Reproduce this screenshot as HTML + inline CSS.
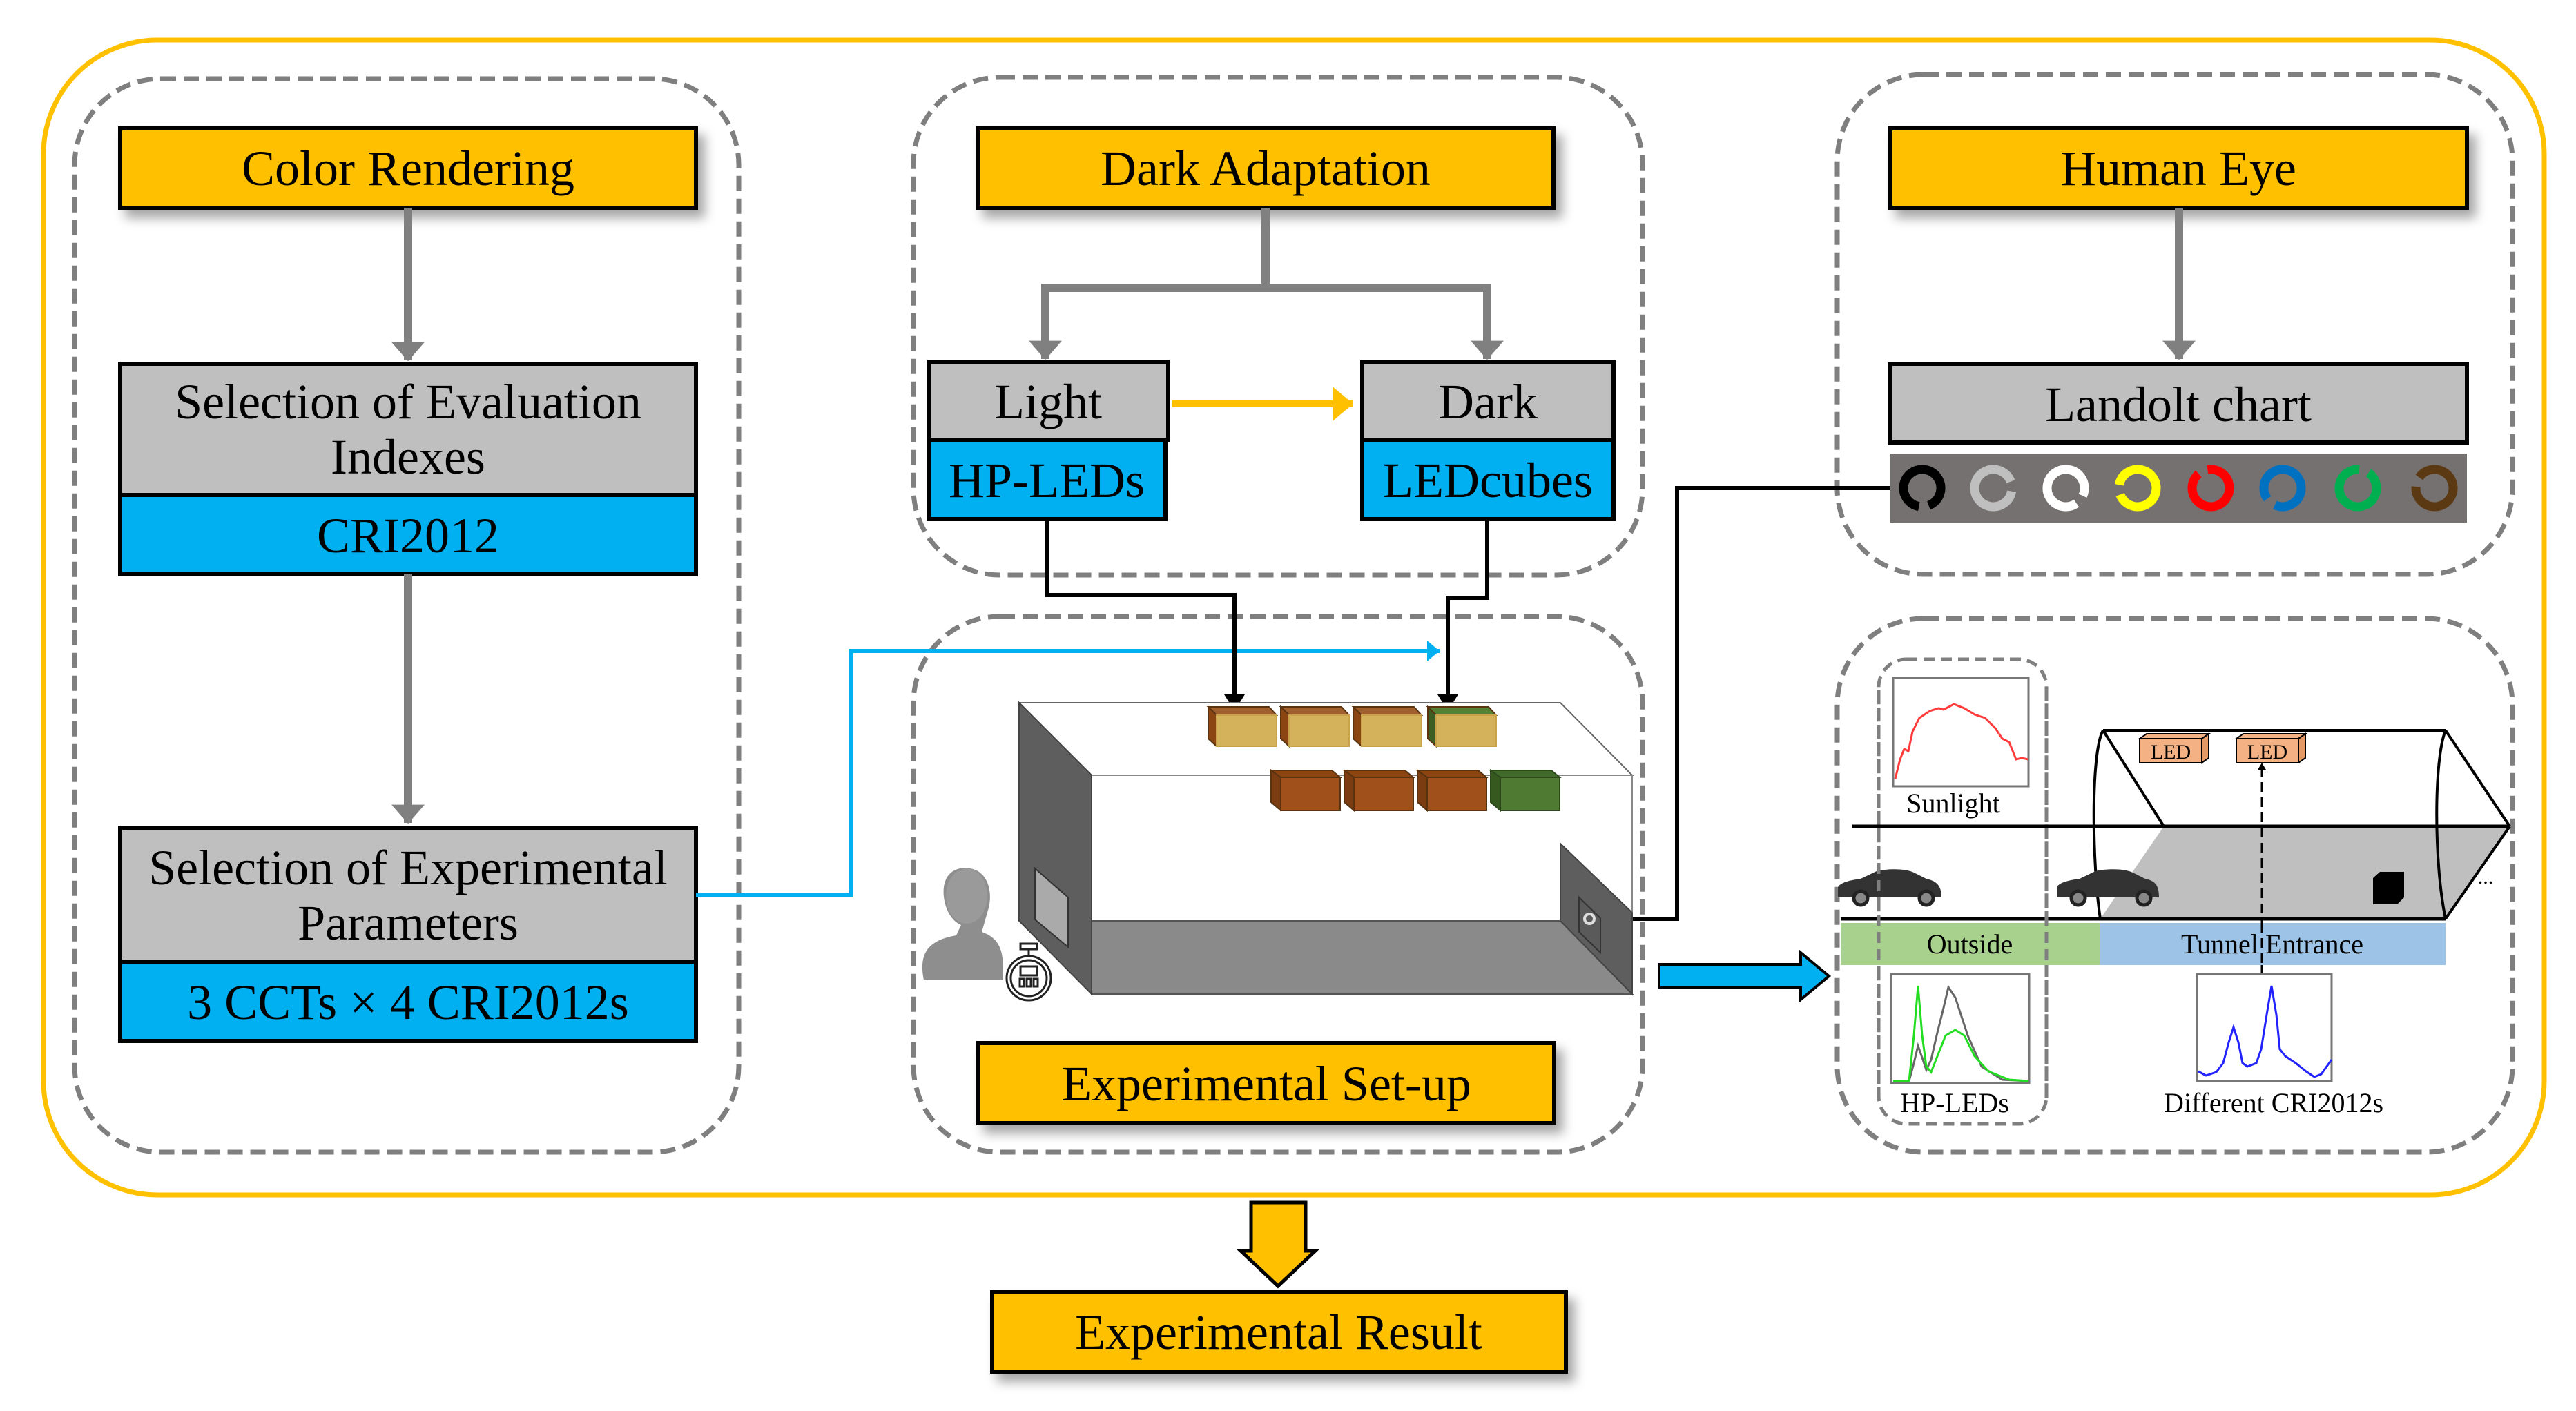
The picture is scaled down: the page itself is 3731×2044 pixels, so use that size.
<!DOCTYPE html>
<html><head><meta charset="utf-8"><style>
html,body{margin:0;padding:0;background:#fff}
svg{display:block}
text{font-family:"Liberation Serif",serif;fill:#000}
</style></head><body>
<svg width="3731" height="2044" viewBox="0 0 3731 2044" xmlns="http://www.w3.org/2000/svg">
<defs>
<filter id="sh" x="-5%" y="-20%" width="115%" height="160%"><feDropShadow dx="10" dy="12" stdDeviation="8" flood-color="#000" flood-opacity="0.35"/></filter>
<marker id="ag" markerWidth="4" markerHeight="4" refX="2.2" refY="2" orient="auto" markerUnits="strokeWidth"><path d="M0,0 L2.3,2 L0,4 z" fill="#808080"/></marker>
<marker id="ab" markerWidth="6" markerHeight="6" refX="4" refY="3" orient="auto" markerUnits="strokeWidth"><path d="M0,0.5 L4,3 L0,5.5 z" fill="#000"/></marker>
<marker id="ac" markerWidth="5" markerHeight="5" refX="3" refY="2.5" orient="auto" markerUnits="strokeWidth"><path d="M0,0 L3,2.5 L0,5 z" fill="#00B0F0"/></marker>
<marker id="ay" markerWidth="5" markerHeight="5" refX="3" refY="2.5" orient="auto" markerUnits="strokeWidth"><path d="M0,0 L3,2.5 L0,5 z" fill="#FFC000"/></marker>
</defs>

<rect x="63" y="58" width="3622" height="1673" rx="165" fill="none" stroke="#FFC000" stroke-width="7"/>

<g fill="none" stroke="#7f7f7f" stroke-width="7" stroke-dasharray="22 11">
<rect x="108" y="114" width="962" height="1555" rx="125"/>
<rect x="1323" y="112" width="1056" height="721" rx="125"/>
<rect x="2661" y="108" width="978" height="724" rx="125"/>
<rect x="1323" y="893" width="1056" height="776" rx="125"/>
<rect x="2661" y="896" width="978" height="773" rx="125"/>
<rect x="2721" y="955" width="243" height="673" rx="40" stroke-width="5" stroke-dasharray="16 9"/>
</g>

<rect x="174" y="186" width="834" height="115" fill="#FFC000" stroke="#000" stroke-width="6" filter="url(#sh)"/>
<text x="591" y="268" font-size="72" text-anchor="middle">Color Rendering</text>
<line x1="591" y1="301" x2="591" y2="522" stroke="#808080" stroke-width="12" marker-end="url(#ag)"/>
<rect x="174" y="527" width="834" height="190" fill="#BFBFBF" stroke="#000" stroke-width="6"/>
<text x="591" y="606" font-size="72" text-anchor="middle">Selection of Evaluation</text>
<text x="591" y="686" font-size="72" text-anchor="middle">Indexes</text>
<rect x="174" y="717" width="834" height="115" fill="#00B0F0" stroke="#000" stroke-width="6"/>
<text x="591" y="800" font-size="72" text-anchor="middle">CRI2012</text>
<line x1="591" y1="832" x2="591" y2="1192" stroke="#808080" stroke-width="12" marker-end="url(#ag)"/>
<rect x="174" y="1199" width="834" height="194" fill="#BFBFBF" stroke="#000" stroke-width="6"/>
<text x="591" y="1281" font-size="72" text-anchor="middle">Selection of Experimental</text>
<text x="591" y="1361" font-size="72" text-anchor="middle">Parameters</text>
<rect x="174" y="1393" width="834" height="115" fill="#00B0F0" stroke="#000" stroke-width="6"/>
<text x="591" y="1476" font-size="72" text-anchor="middle">3 CCTs × 4 CRI2012s</text>

<polyline points="1008,1297 1233,1297 1233,943 2085,943" fill="none" stroke="#00B0F0" stroke-width="6" marker-end="url(#ac)"/>

<rect x="1416" y="186" width="834" height="115" fill="#FFC000" stroke="#000" stroke-width="6" filter="url(#sh)"/>
<text x="1833" y="268" font-size="72" text-anchor="middle">Dark Adaptation</text>
<polyline points="1833,301 1833,417 1514,417 1514,520" fill="none" stroke="#808080" stroke-width="12" marker-end="url(#ag)"/>
<polyline points="1833,417 2154,417 2154,520" fill="none" stroke="#808080" stroke-width="12" marker-end="url(#ag)"/>
<rect x="1345" y="525" width="347" height="112" fill="#BFBFBF" stroke="#000" stroke-width="6"/>
<text x="1518" y="606" font-size="72" text-anchor="middle">Light</text>
<rect x="1345" y="637" width="343" height="115" fill="#00B0F0" stroke="#000" stroke-width="6"/>
<text x="1516" y="720" font-size="72" text-anchor="middle">HP-LEDs</text>
<rect x="1973" y="525" width="364" height="112" fill="#BFBFBF" stroke="#000" stroke-width="6"/>
<text x="2155" y="606" font-size="72" text-anchor="middle">Dark</text>
<rect x="1973" y="637" width="364" height="115" fill="#00B0F0" stroke="#000" stroke-width="6"/>
<text x="2155" y="720" font-size="72" text-anchor="middle">LEDcubes</text>
<line x1="1698" y1="585" x2="1960" y2="585" stroke="#FFC000" stroke-width="10" marker-end="url(#ay)"/>

<polyline points="1517,752 1517,862 1788,862 1788,1030" fill="none" stroke="#000" stroke-width="6" marker-end="url(#ab)"/>
<polyline points="2154,752 2154,866 2097,866 2097,1030" fill="none" stroke="#000" stroke-width="6" marker-end="url(#ab)"/>
<polyline points="2737,707 2429,707 2429,1331 2330,1331" fill="none" stroke="#000" stroke-width="6" marker-end="url(#ab)"/>

<rect x="2738" y="186" width="835" height="115" fill="#FFC000" stroke="#000" stroke-width="6" filter="url(#sh)"/>
<text x="3155" y="268" font-size="72" text-anchor="middle">Human Eye</text>
<line x1="3156" y1="301" x2="3156" y2="520" stroke="#808080" stroke-width="12" marker-end="url(#ag)"/>
<rect x="2738" y="527" width="835" height="114" fill="#BFBFBF" stroke="#000" stroke-width="6"/>
<text x="3155" y="610" font-size="72" text-anchor="middle">Landolt chart</text>
<rect x="2738" y="657" width="835" height="100" fill="#767171"/>
<g fill="none" stroke-width="13">
<circle cx="2784" cy="707" r="27" stroke="#000" stroke-dasharray="155 15" transform="rotate(100 2784 707)"/>
<circle cx="2887" cy="707" r="27" stroke="#BFBFBF" stroke-dasharray="155 15" transform="rotate(10 2887 707)"/>
<circle cx="2992" cy="707" r="27" stroke="#fff" stroke-dasharray="155 15" transform="rotate(55 2992 707)"/>
<circle cx="3096" cy="707" r="27" stroke="#FFFF00" stroke-dasharray="155 15" transform="rotate(-170 3096 707)"/>
<circle cx="3202" cy="707" r="27" stroke="#FF0000" stroke-dasharray="155 15" transform="rotate(-100 3202 707)"/>
<circle cx="3306" cy="707" r="27" stroke="#0070C0" stroke-dasharray="155 15" transform="rotate(145 3306 707)"/>
<circle cx="3415" cy="707" r="27" stroke="#00B050" stroke-dasharray="155 15" transform="rotate(-55 3415 707)"/>
<circle cx="3526" cy="707" r="27" stroke="#5B3A13" stroke-dasharray="155 15" transform="rotate(-145 3526 707)"/>
</g>

<polygon points="1476,1018 2260,1018 2364,1123 1581,1123" fill="#fff" stroke="#666" stroke-width="2"/>
<rect x="1581" y="1123" width="783" height="211" fill="#fff" stroke="#888" stroke-width="2"/>
<polygon points="1581,1334 2260,1334 2364,1440 1581,1440" fill="#8a8a8a" stroke="#555" stroke-width="2"/>
<polygon points="1476,1018 1581,1123 1581,1440 1476,1334" fill="#5e5e5e" stroke="#444" stroke-width="2"/>
<polygon points="1499,1258 1547,1300 1547,1372 1499,1332" fill="#aaa" stroke="#333" stroke-width="2"/>
<polygon points="2260,1222 2364,1322 2364,1440 2260,1334" fill="#5e5e5e" stroke="#444" stroke-width="2"/>
<polygon points="2287,1300 2318,1330 2318,1380 2287,1350" fill="#5a5a5a" stroke="#333" stroke-width="2"/>
<circle cx="2302" cy="1331" r="7" fill="none" stroke="#ddd" stroke-width="4"/>
<g stroke="#5a3410" stroke-width="2">
<g><polygon points="1750,1024 1838,1024 1849,1036 1762,1036" fill="#A0602E"/><polygon points="1750,1024 1762,1036 1762,1081 1750,1070" fill="#8B4513"/><rect x="1762" y="1036" width="87" height="45" fill="#D4B25C" stroke="#c8a34a"/></g>
<g><polygon points="1855,1024 1943,1024 1954,1036 1867,1036" fill="#A0602E"/><polygon points="1855,1024 1867,1036 1867,1081 1855,1070" fill="#8B4513"/><rect x="1867" y="1036" width="87" height="45" fill="#D4B25C" stroke="#c8a34a"/></g>
<g><polygon points="1960,1024 2048,1024 2059,1036 1972,1036" fill="#A0602E"/><polygon points="1960,1024 1972,1036 1972,1081 1960,1070" fill="#8B4513"/><rect x="1972" y="1036" width="87" height="45" fill="#D4B25C" stroke="#c8a34a"/></g>
<g><polygon points="2068,1024 2156,1024 2167,1036 2080,1036" fill="#548235"/><polygon points="2068,1024 2080,1036 2080,1081 2068,1070" fill="#3B5E25"/><rect x="2080" y="1036" width="87" height="45" fill="#D4B25C" stroke="#c8a34a"/></g>
<g><polygon points="1841,1116 1929,1116 1941,1126 1855,1126" fill="#8B4513"/><polygon points="1841,1116 1855,1126 1855,1174 1841,1162" fill="#7a3c10"/><rect x="1855" y="1126" width="86" height="48" fill="#A0501A"/></g>
<g><polygon points="1947,1116 2035,1116 2047,1126 1961,1126" fill="#8B4513"/><polygon points="1947,1116 1961,1126 1961,1174 1947,1162" fill="#7a3c10"/><rect x="1961" y="1126" width="86" height="48" fill="#A0501A"/></g>
<g><polygon points="2053,1116 2141,1116 2153,1126 2067,1126" fill="#8B4513"/><polygon points="2053,1116 2067,1126 2067,1174 2053,1162" fill="#7a3c10"/><rect x="2067" y="1126" width="86" height="48" fill="#A0501A"/></g>
<g stroke="#2e4a1c"><polygon points="2159,1116 2247,1116 2259,1126 2173,1126" fill="#3f6a2a"/><polygon points="2159,1116 2173,1126 2173,1174 2159,1162" fill="#35591f"/><rect x="2173" y="1126" width="86" height="48" fill="#4E7A32"/></g>
</g>
<path d="M1338,1420 C1330,1380 1345,1362 1385,1355 L1392,1340 C1370,1330 1365,1300 1367,1285 C1370,1262 1388,1255 1405,1258 C1430,1262 1438,1290 1432,1315 L1422,1350 C1450,1360 1455,1380 1452,1420 Z" fill="#8e8e8e"/>
<ellipse cx="1400" cy="1298" rx="30" ry="40" fill="#9a9a9a"/>
<g fill="none" stroke="#222" stroke-width="3">
<circle cx="1490" cy="1417" r="32"/><circle cx="1490" cy="1417" r="26"/>
<rect x="1478" y="1367" width="24" height="8"/><line x1="1490" y1="1375" x2="1490" y2="1385"/>
<rect x="1478" y="1400" width="24" height="13"/>
<rect x="1477" y="1418" width="6" height="11"/><rect x="1487" y="1418" width="6" height="11"/><rect x="1497" y="1418" width="6" height="11"/>
</g>
<rect x="1417" y="1511" width="834" height="116" fill="#FFC000" stroke="#000" stroke-width="6" filter="url(#sh)"/>
<text x="1834" y="1594" font-size="72" text-anchor="middle">Experimental Set-up</text>

<polygon points="2403,1397 2608,1397 2608,1380 2649,1414 2608,1448 2608,1431 2403,1431" fill="#00B0F0" stroke="#000" stroke-width="4"/>

<rect x="2742" y="982" width="196" height="157" fill="#fff" stroke="#777" stroke-width="3"/>
<polyline points="2745,1128 2752,1100 2758,1085 2764,1088 2770,1060 2780,1040 2795,1030 2808,1026 2815,1028 2830,1020 2845,1026 2860,1035 2875,1040 2890,1055 2900,1070 2910,1075 2920,1100 2928,1098 2938,1100" fill="none" stroke="#ff3b3b" stroke-width="3"/>
<text x="2829" y="1177" font-size="40" text-anchor="middle">Sunlight</text>
<polygon points="3134,1197 3635,1197 3542,1331 3042,1331" fill="#BFBFBF"/>
<line x1="2683" y1="1197" x2="3635" y2="1197" stroke="#000" stroke-width="5"/>
<line x1="2666" y1="1331" x2="3542" y2="1331" stroke="#000" stroke-width="5"/>
<g fill="none" stroke="#000" stroke-width="4">
<line x1="3046" y1="1058" x2="3542" y2="1058"/>
<path d="M3046,1058 C3028,1090 3030,1250 3042,1331"/>
<line x1="3046" y1="1058" x2="3134" y2="1197"/>
<path d="M3542,1058 C3525,1100 3525,1250 3542,1331"/>
<line x1="3542" y1="1058" x2="3635" y2="1197"/>
<line x1="3635" y1="1197" x2="3542" y2="1331"/>
</g>
<g stroke="#000" stroke-width="2">
<polygon points="3099,1070 3189,1070 3199,1063 3109,1063" fill="#F4B183"/><polygon points="3189,1070 3199,1063 3199,1098 3189,1105" fill="#e59a66"/><rect x="3099" y="1070" width="90" height="35" fill="#F4B183"/>
<polygon points="3239,1070 3329,1070 3339,1063 3249,1063" fill="#F4B183"/><polygon points="3329,1070 3339,1063 3339,1098 3329,1105" fill="#e59a66"/><rect x="3239" y="1070" width="90" height="35" fill="#F4B183"/>
</g>
<text x="3144" y="1099" font-size="30" text-anchor="middle">LED</text>
<text x="3284" y="1099" font-size="30" text-anchor="middle">LED</text>
<line x1="3276" y1="1411" x2="3276" y2="1112" stroke="#000" stroke-width="3" stroke-dasharray="14 8"/>
<polygon points="3270,1115 3276,1105 3282,1115" fill="#000"/>
<g fill="#333">
<path d="M2662,1300 L2662,1285 C2666,1278 2680,1275 2695,1273 L2718,1262 C2735,1258 2760,1258 2772,1264 L2790,1273 C2805,1276 2812,1283 2812,1300 Z"/>
<path d="M2979,1300 L2979,1285 C2983,1278 2997,1275 3012,1273 L3035,1262 C3052,1258 3077,1258 3089,1264 L3107,1273 C3122,1276 3127,1283 3127,1300 Z"/>
</g>
<g fill="#888" stroke="#222" stroke-width="5"><circle cx="2695" cy="1301" r="10"/><circle cx="2790" cy="1301" r="10"/><circle cx="3010" cy="1301" r="10"/><circle cx="3105" cy="1301" r="10"/></g>
<polygon points="3437,1272 3447,1263 3482,1263 3482,1300 3472,1310 3437,1310" fill="#000"/>
<text x="3600" y="1280" font-size="30" text-anchor="middle">...</text>
<rect x="2666" y="1337" width="376" height="61" fill="#A9D18E"/>
<rect x="3042" y="1337" width="500" height="61" fill="#9DC3E6"/>
<line x1="3276" y1="1337" x2="3276" y2="1411" stroke="#000" stroke-width="3" stroke-dasharray="14 8"/>
<text x="2853" y="1381" font-size="40" text-anchor="middle">Outside</text>
<text x="3291" y="1381" font-size="40" text-anchor="middle">Tunnel Entrance</text>
<g fill="none" stroke="#7f7f7f" stroke-width="5" stroke-dasharray="16 9">
<line x1="2721" y1="1000" x2="2721" y2="1600"/><line x1="2964" y1="1000" x2="2964" y2="1600"/>
</g>
<rect x="2739" y="1411" width="200" height="158" fill="#fff" stroke="#777" stroke-width="3"/>
<polyline points="2742,1566 2765,1566 2772,1540 2778,1515 2785,1535 2790,1550 2797,1535 2805,1500 2815,1460 2822,1430 2832,1445 2850,1500 2870,1545 2900,1564 2938,1566" fill="none" stroke="#666" stroke-width="3"/>
<polyline points="2742,1566 2765,1566 2772,1500 2778,1428 2784,1500 2790,1545 2797,1553 2808,1525 2818,1500 2832,1492 2845,1500 2860,1530 2880,1552 2910,1564 2938,1566" fill="none" stroke="#22dd22" stroke-width="3"/>
<text x="2831" y="1611" font-size="40" text-anchor="middle">HP-LEDs</text>
<rect x="3182" y="1411" width="195" height="155" fill="#fff" stroke="#777" stroke-width="3"/>
<polyline points="3184,1552 3195,1558 3210,1553 3220,1540 3228,1510 3235,1488 3242,1510 3248,1540 3255,1545 3268,1540 3275,1520 3283,1470 3290,1428 3297,1470 3302,1520 3310,1530 3325,1540 3340,1552 3352,1560 3362,1556 3377,1535" fill="none" stroke="#2222ff" stroke-width="3"/>
<text x="3293" y="1611" font-size="40" text-anchor="middle">Different CRI2012s</text>

<polygon points="1812,1742 1891,1742 1891,1812 1905,1812 1851,1863 1797,1812 1812,1812" fill="#FFC000" stroke="#000" stroke-width="5"/>
<rect x="1437" y="1872" width="831" height="115" fill="#FFC000" stroke="#000" stroke-width="6" filter="url(#sh)"/>
<text x="1852" y="1954" font-size="72" text-anchor="middle">Experimental Result</text>
</svg>
</body></html>
